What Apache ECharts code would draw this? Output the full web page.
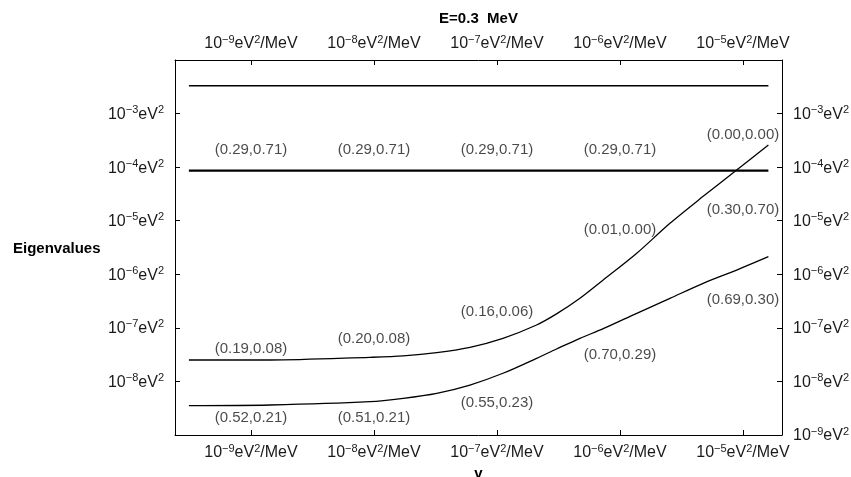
<!DOCTYPE html>
<html><head><meta charset="utf-8">
<script src="https://cdn.jsdelivr.net/npm/echarts@6/dist/echarts.min.js"></script>
<style>html,body{margin:0;padding:0;background:#fff}#c{width:851px;height:477px}</style>
</head><body><div id="c"></div>
<script>
// x: potential (eV^2/MeV), y: eigenvalues (eV^2)
const xs = [3.13e-10, 1.43e-9, 9.27e-9, 1.73e-8, 3.24e-8, 6.03e-8, 1.12e-7, 2.10e-7, 3.05e-7, 4.73e-7, 7.31e-7, 1.37e-6, 2.55e-6, 4.75e-6, 8.89e-6, 1.61e-5];
const upperCurve = [2.51e-8, 2.51e-8, 2.82e-8, 2.99e-8, 3.44e-8, 4.34e-8, 6.38e-8, 1.13e-7, 1.82e-7, 3.56e-7, 7.82e-7, 2.47e-6, 8.95e-6, 2.85e-5, 8.85e-5, 2.59e-4];
const lowerCurve = [3.52e-9, 3.63e-9, 4.19e-9, 4.84e-9, 6.0e-9, 8.57e-9, 1.42e-8, 2.70e-8, 4.03e-8, 6.38e-8, 9.64e-8, 1.87e-7, 3.56e-7, 6.79e-7, 1.20e-6, 2.13e-6];
const flatX = [3.13e-10, 1.61e-5];
const topLevel = [3.3e-3, 3.3e-3];
const midLevel = [8.6e-5, 8.6e-5];

const annoText = ['(0.29,0.71)','(0.29,0.71)','(0.29,0.71)','(0.29,0.71)','(0.00,0.00)','(0.30,0.70)','(0.01,0.00)','(0.69,0.30)','(0.16,0.06)','(0.20,0.08)','(0.19,0.08)','(0.70,0.29)','(0.55,0.23)','(0.52,0.21)','(0.51,0.21)'];
const annoX    = [1e-9, 1e-8, 1e-7, 1e-6, 1e-5, 1e-5, 1e-6, 1e-5, 1e-7, 1e-8, 1e-9, 1e-6, 1e-7, 1e-9, 1e-8];
const annoY    = [2.09e-4, 2.09e-4, 2.09e-4, 2.09e-4, 4.0e-4, 1.58e-5, 6.7e-6, 3.3e-7, 2.0e-7, 6.2e-8, 4.08e-8, 3.1e-8, 4.0e-9, 2.05e-9, 2.05e-9];

const FONT = 'Liberation Sans, Arial, Helvetica, sans-serif';
const rich = {
  n: {fontSize: 16, fontFamily: FONT, color: '#1a1a1a', lineHeight: 18, verticalAlign: 'bottom'},
  s: {fontSize: 11, fontFamily: FONT, color: '#1a1a1a', lineHeight: 9, verticalAlign: 'top'}
};
function expLabel(v, unit, lo, hi) {
  const l = Math.log10(v), e = Math.round(l);
  if (Math.abs(l - e) > 1e-6 || e < lo || e > hi) return '';
  return '{n|10}{s|\u2212' + (-e) + '}{n|eV}{s|2}' + (unit ? '{n|' + unit + '}' : '');
}
const xMin = Math.pow(10, -9.6175), xMax = Math.pow(10, -4.6825);
const axisLine = {show: true, lineStyle: {color: '#000', width: 1}};
const axisTick = {show: true, inside: true, length: 5, lineStyle: {color: '#000'}};

const chart = echarts.init(document.getElementById('c'));
chart.setOption({
  animation: false,
  backgroundColor: '#fff',
  grid: {left: 175, right: 69, top: 60, bottom: 42, containLabel: false, outerBoundsMode: 'none'},
  xAxis: [
    {type: 'log', logBase: 10, min: xMin, max: xMax, position: 'bottom',
     axisLine, axisTick, splitLine: {show: false},
     axisLabel: {margin: 8, formatter: v => expLabel(v, '/MeV', -9, -5), rich},
     name: 'v', nameLocation: 'middle', nameGap: 27,
     nameTextStyle: {fontFamily: FONT, fontWeight: 'bold', fontSize: 15, color: '#000'}},
    {type: 'log', logBase: 10, min: xMin, max: xMax, position: 'top',
     axisLine, axisTick, splitLine: {show: false},
     axisLabel: {margin: 8, formatter: v => expLabel(v, '/MeV', -9, -5), rich},
     name: 'E=0.3  MeV', nameLocation: 'middle', nameGap: 34,
     nameTextStyle: {fontFamily: FONT, fontWeight: 'bold', fontSize: 15, color: '#000'}}
  ],
  yAxis: [
    {type: 'log', logBase: 10, min: 1e-9, max: 1e-2, position: 'left',
     axisLine, axisTick, splitLine: {show: false},
     axisLabel: {margin: 11, formatter: v => expLabel(v, '', -8, -3), rich}},
    {type: 'log', logBase: 10, min: 1e-9, max: 1e-2, position: 'right',
     axisLine, axisTick, splitLine: {show: false},
     axisLabel: {margin: 11, formatter: v => expLabel(v, '', -9, -3), rich}}
  ],
  graphic: [{type: 'text', left: 13, top: 241,
    style: {text: 'Eigenvalues', font: 'bold 15px ' + FONT, fill: '#000'}}],
  series: [
    {type: 'line', data: flatX.map((x, i) => [x, topLevel[i]]), symbol: 'none',
     lineStyle: {color: '#000', width: 1.4}, silent: true},
    {type: 'line', data: flatX.map((x, i) => [x, midLevel[i]]), symbol: 'none',
     lineStyle: {color: '#000', width: 2.2}, silent: true},
    {type: 'line', data: xs.map((x, i) => [x, upperCurve[i]]), symbol: 'none', smooth: 0.3,
     lineStyle: {color: '#000', width: 1.3}, silent: true},
    {type: 'line', data: xs.map((x, i) => [x, lowerCurve[i]]), symbol: 'none', smooth: 0.3,
     lineStyle: {color: '#000', width: 1.3}, silent: true},
    {type: 'scatter', data: annoX.map((x, i) => [x, annoY[i]]), symbolSize: 0, silent: true,
     label: {show: true, position: 'inside', formatter: p => annoText[p.dataIndex],
             fontFamily: FONT, fontSize: 15, color: '#1a1a1a'}}
  ]
});
</script></body></html>
